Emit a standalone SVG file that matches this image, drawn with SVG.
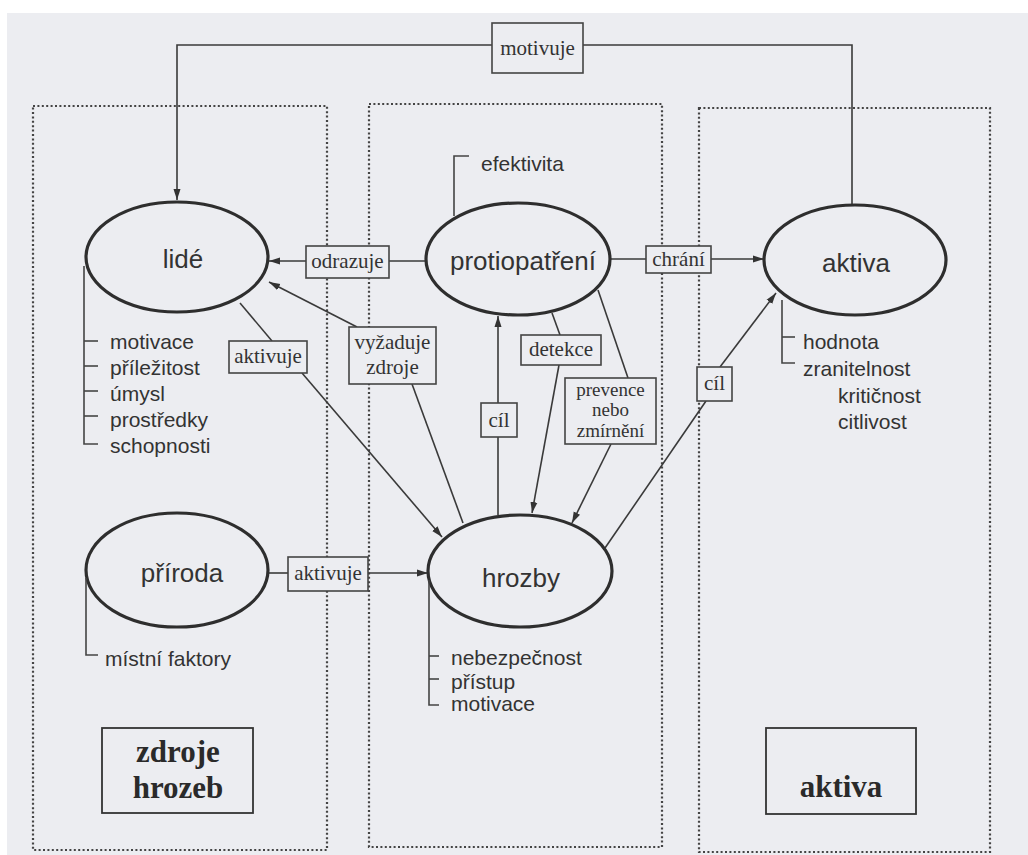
<svg xmlns="http://www.w3.org/2000/svg" width="1028" height="855" viewBox="0 0 1028 855">
<defs>
<marker id="ah" markerUnits="userSpaceOnUse" markerWidth="12" markerHeight="8" refX="11" refY="4" orient="auto">
<path d="M0,0.5 L11,4 L0,7.5 z" fill="#333"/>
</marker>
<style>
.bg{fill:#ecedf1}
.zone{fill:none;stroke:#444;stroke-width:2.2;stroke-dasharray:2 2.4}
.ell{fill:none;stroke:#2e2e2e;stroke-width:3.2}
.et{font-family:"Liberation Sans",Arial,sans-serif;font-size:26px;fill:#333;text-anchor:middle}
.at{font-family:"Liberation Sans",Arial,sans-serif;font-size:21px;fill:#333}
.br{fill:none;stroke:#444;stroke-width:1.6}
.lb{fill:#ecedf1;stroke:#444;stroke-width:1.6}
.lt{font-family:"Liberation Serif","Times New Roman",serif;font-size:21px;fill:#333;text-anchor:middle}
.ls{font-family:"Liberation Serif","Times New Roman",serif;font-size:19px;fill:#333;text-anchor:middle}
.ln{fill:none;stroke:#3a3a3a;stroke-width:1.6}
.tb{fill:none;stroke:#333;stroke-width:1.8}
.tt{font-family:"Liberation Serif","Times New Roman",serif;font-size:31px;font-weight:bold;fill:#2a2a2a;text-anchor:middle}
</style>
</defs>
<rect x="0" y="0" width="1028" height="855" fill="#ffffff"/>
<rect class="bg" x="7" y="13" width="1021" height="842"/>

<g id="zones">
<rect class="zone" x="33" y="106" width="294" height="744"/>
<rect class="zone" x="369" y="104" width="293" height="743"/>
<rect class="zone" x="699" y="108" width="291" height="744"/>
</g>

<g id="connectors">
<polyline class="ln" points="492,45 177,45 177,200" marker-end="url(#ah)"/>
<polyline class="ln" points="583,45 852,45 852,205"/>
<line class="ln" x1="427" y1="261" x2="389" y2="261"/>
<line class="ln" x1="306" y1="261" x2="269" y2="261" marker-end="url(#ah)"/>
<line class="ln" x1="610" y1="259" x2="646" y2="259"/>
<line class="ln" x1="711" y1="259" x2="764" y2="259" marker-end="url(#ah)"/>
<line class="ln" x1="240" y1="303" x2="272" y2="341"/>
<line class="ln" x1="302" y1="373" x2="442" y2="537" marker-end="url(#ah)"/>
<line class="ln" x1="357" y1="327" x2="269" y2="282" marker-end="url(#ah)"/>
<line class="ln" x1="463" y1="523" x2="412" y2="384"/>
<line class="ln" x1="268" y1="573" x2="288" y2="573"/>
<line class="ln" x1="368" y1="573" x2="428" y2="573" marker-end="url(#ah)"/>
<line class="ln" x1="498" y1="515" x2="498" y2="316" marker-end="url(#ah)"/>
<line class="ln" x1="552" y1="313" x2="560" y2="335"/>
<line class="ln" x1="559" y1="365" x2="532" y2="513" marker-end="url(#ah)"/>
<line class="ln" x1="598" y1="290" x2="628" y2="378"/>
<line class="ln" x1="611" y1="444" x2="572" y2="523" marker-end="url(#ah)"/>
<line class="ln" x1="605" y1="548" x2="706" y2="401"/>
<line class="ln" x1="720" y1="367" x2="776" y2="293" marker-end="url(#ah)"/>
</g>

<g id="label-motivuje">
<rect class="lb" x="492" y="23" width="91" height="50"/>
<text class="lt" x="537.5" y="55">motivuje</text>
</g>
<g id="label-odrazuje">
<rect class="lb" x="306" y="246" width="83" height="32"/>
<text class="lt" x="347.5" y="268">odrazuje</text>
</g>
<g id="label-chrani">
<rect class="lb" x="646" y="246" width="65" height="27"/>
<text class="lt" x="678.5" y="266">chrání</text>
</g>
<g id="label-aktivuje1">
<rect class="lb" x="229" y="341" width="78" height="32"/>
<text class="lt" x="268" y="363">aktivuje</text>
</g>
<g id="label-vyzaduje">
<rect class="lb" x="349" y="327" width="87" height="57"/>
<text class="lt" x="392.5" y="349">vyžaduje</text>
<text class="lt" x="392.5" y="374">zdroje</text>
</g>
<g id="label-aktivuje2">
<rect class="lb" x="288" y="557" width="80" height="34"/>
<text class="lt" x="328" y="580">aktivuje</text>
</g>
<g id="label-cil1">
<rect class="lb" x="481" y="403" width="36" height="34"/>
<text class="lt" x="499" y="427">cíl</text>
</g>
<g id="label-detekce">
<rect class="lb" x="521" y="335" width="80" height="30"/>
<text class="lt" x="561" y="356">detekce</text>
</g>
<g id="label-prevence">
<rect class="lb" x="565" y="378" width="91" height="66"/>
<text class="ls" x="610.5" y="396">prevence</text>
<text class="ls" x="610.5" y="416">nebo</text>
<text class="ls" x="610.5" y="437">zmírnění</text>
</g>
<g id="label-cil2">
<rect class="lb" x="697" y="367" width="35" height="34"/>
<text class="lt" x="714.5" y="390">cíl</text>
</g>

<g id="node-lide">
<ellipse class="ell" cx="177" cy="257" rx="91" ry="55"/>
<text class="et" x="183" y="268">lidé</text>
<polyline class="br" points="84,266 84,444 98,444"/>
<line class="br" x1="84" y1="341" x2="98" y2="341"/>
<line class="br" x1="84" y1="366" x2="98" y2="366"/>
<line class="br" x1="84" y1="391" x2="98" y2="391"/>
<line class="br" x1="84" y1="416" x2="98" y2="416"/>
<text class="at" x="110" y="349">motivace</text>
<text class="at" x="110" y="375">příležitost</text>
<text class="at" x="110" y="401">úmysl</text>
<text class="at" x="110" y="427">prostředky</text>
<text class="at" x="110" y="453">schopnosti</text>
</g>

<g id="node-protiopatreni">
<ellipse class="ell" cx="518" cy="259" rx="92" ry="56"/>
<text class="et" x="523" y="270">protiopatření</text>
<polyline class="br" points="454,216 454,156 469,156"/>
<text class="at" x="481" y="171">efektivita</text>
</g>

<g id="node-aktiva">
<ellipse class="ell" cx="855" cy="260" rx="91" ry="55"/>
<text class="et" x="856" y="272">aktiva</text>
<polyline class="br" points="782,300 782,363 795,363"/>
<line class="br" x1="782" y1="337" x2="795" y2="337"/>
<text class="at" x="803" y="349">hodnota</text>
<text class="at" x="803" y="376">zranitelnost</text>
<text class="at" x="838" y="403">kritičnost</text>
<text class="at" x="838" y="429">citlivost</text>
</g>

<g id="node-priroda">
<ellipse class="ell" cx="177" cy="570" rx="91" ry="57"/>
<text class="et" x="182" y="582">příroda</text>
<polyline class="br" points="86,578 86,655 98,655"/>
<text class="at" x="105" y="666">místní faktory</text>
</g>

<g id="node-hrozby">
<ellipse class="ell" cx="520" cy="571" rx="92" ry="56"/>
<text class="et" x="521" y="587">hrozby</text>
<polyline class="br" points="429,580 429,705 439,705"/>
<line class="br" x1="429" y1="656" x2="439" y2="656"/>
<line class="br" x1="429" y1="679" x2="439" y2="679"/>
<text class="at" x="451" y="665">nebezpečnost</text>
<text class="at" x="451" y="689">přístup</text>
<text class="at" x="451" y="711">motivace</text>
</g>

<g id="title-zdroje">
<rect class="tb" x="102" y="728" width="151" height="85"/>
<text class="tt" x="178" y="762">zdroje</text>
<text class="tt" x="178" y="798">hrozeb</text>
</g>
<g id="title-aktiva">
<rect class="tb" x="766" y="728" width="150" height="86"/>
<text class="tt" x="841" y="797">aktiva</text>
</g>
</svg>
